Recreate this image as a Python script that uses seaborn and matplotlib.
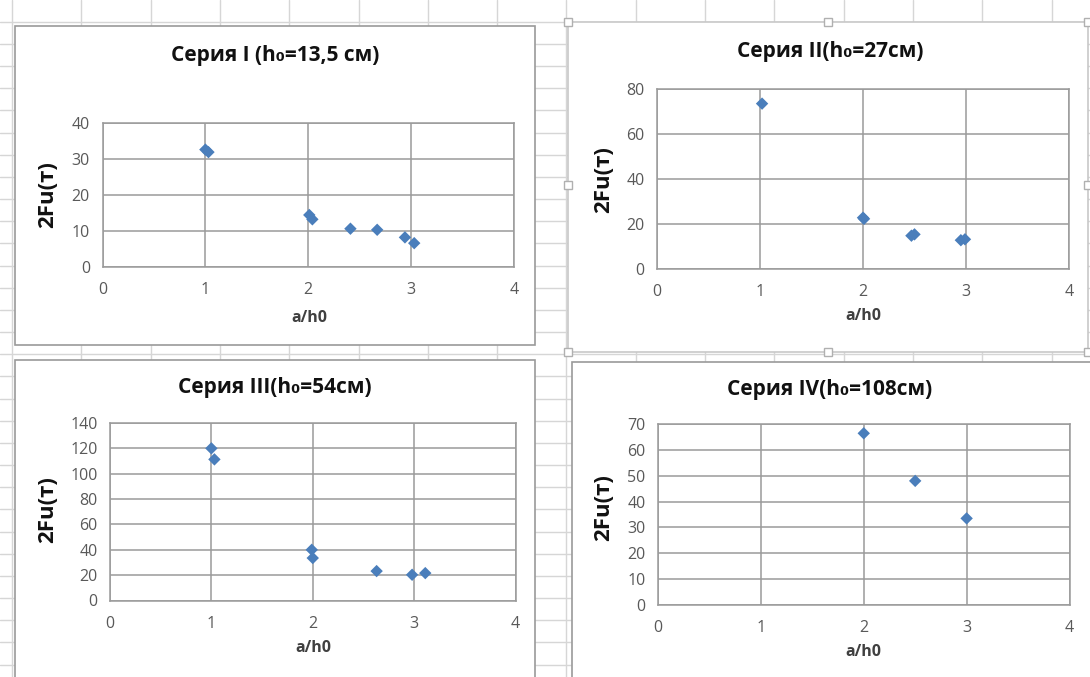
import matplotlib
matplotlib.use("Agg")
import matplotlib.pyplot as plt
import seaborn as sns
import pandas as pd
import numpy as np
from matplotlib.patches import Rectangle

# ---------------- data ----------------
s1_x = [1.00, 1.03, 2.01, 2.04, 2.41, 2.67, 2.94, 3.03]
s1_y = [32.5, 31.8, 14.4, 13.2, 10.6, 10.3, 8.2, 6.6]
s2_x = [1.02, 2.00, 2.01, 2.47, 2.50, 2.95, 2.99]
s2_y = [73.5, 22.8, 22.3, 14.8, 15.4, 12.8, 13.2]
s3_x = [1.00, 1.03, 1.99, 2.00, 2.63, 2.98, 3.11]
s3_y = [120.0, 111.3, 40.0, 33.5, 23.2, 20.3, 21.6]
s4_x = [2.0, 2.5, 3.0]
s4_y = [66.4, 48.0, 33.5]

titles = ["Серия I (h\u2080=13,5 см)", "Серия II(h\u2080=27см)",
          "Серия III(h\u2080=54см)", "Серия IV(h\u2080=108см)"]
y_label = "2Fu(т)"
x_label = "a/h0"
x_ticks = [0, 1, 2, 3, 4]
y_ticks = [[0, 10, 20, 30, 40], [0, 20, 40, 60, 80],
           [0, 20, 40, 60, 80, 100, 120, 140],
           [0, 10, 20, 30, 40, 50, 60, 70]]

# ---------------- style ----------------
sns.set_theme(style="white")
plt.rcParams['font.family'] = ['Open Sans', 'DejaVu Sans']

W, H = 1090, 677
fig = plt.figure(figsize=(W / 100, H / 100), dpi=100)
fig.patch.set_facecolor("white")

def fx(px):
    return px / W

def fy(py):
    return 1 - py / H

# spreadsheet background grid
bg = fig.add_axes([0, 0, 1, 1], zorder=0)
bg.set_xlim(0, W)
bg.set_ylim(H, 0)
bg.set_xticks(12 + 69.3 * np.arange(0, 16))
bg.set_yticks(21.7 + 22.17 * np.arange(0, 30))
bg.grid(True, color="#d6d6d6", linewidth=1)
bg.tick_params(length=0, labelbottom=False, labelleft=False)
for s in bg.spines.values():
    s.set_visible(False)
bg.set_facecolor("white")

# chart boxes (px: left, top, right, bottom)
boxes = [(15, 26, 535, 345, "#9a9a9a"), (568, 22, 1088, 352, "#c8c8c8"),
         (15, 360, 535, 690, "#9a9a9a"), (572, 362, 1095, 690, "#9a9a9a")]
for (l, t, r, b, c) in boxes:
    fig.patches.append(Rectangle((fx(l), fy(b)), fx(r - l), (b - t) / H,
                                 transform=fig.transFigure, facecolor="white",
                                 edgecolor=c, linewidth=1.2, zorder=1))
# selection handles on chart II
for (hx, hy) in [(568, 22), (828, 22), (1088, 22), (568, 185), (1088, 185),
                 (568, 352), (828, 352), (1088, 352)]:
    fig.patches.append(Rectangle((fx(hx - 4), fy(hy + 4)), fx(8), 8 / H,
                                 transform=fig.transFigure, facecolor="white",
                                 edgecolor="#b0b0b0", linewidth=1, zorder=2))

# plot areas (px: left, top, right, bottom)
areas = [(102.5, 122.5, 514, 267), (657, 89, 1069, 269),
         (110, 423, 515.5, 600.5), (658, 424, 1069.5, 605)]
title_pos = [(275, 55), (830, 52), (275, 388), (830, 390)]
ylab_pos = [(48, 195), (604, 180), (48, 510), (604, 508)]
xlab_pos = [(309, 318), (863, 316), (313, 648), (863, 652)]

xs = [s1_x, s2_x, s3_x, s4_x]
ys = [s1_y, s2_y, s3_y, s4_y]

for i in range(4):
    l, t, r, b = areas[i]
    ax = fig.add_axes([fx(l), fy(b), fx(r - l), (b - t) / H], zorder=3)
    df = pd.DataFrame({"x": xs[i], "y": ys[i]})
    sns.scatterplot(data=df, x="x", y="y", ax=ax, marker="D", s=40,
                    color="#4a7ebb", edgecolor="none", zorder=4)
    ax.set_xlim(0, 4)
    ax.set_ylim(y_ticks[i][0], y_ticks[i][-1])
    ax.set_xticks(x_ticks)
    ax.set_yticks(y_ticks[i])
    ax.grid(True, color="#9a9a9a", linewidth=1.1)
    ax.set_axisbelow(True)
    for s in ax.spines.values():
        s.set_color("#9a9a9a")
        s.set_linewidth(1.1)
    ax.tick_params(length=0, labelsize=11.5, labelcolor="#595959")
    ax.tick_params(axis="x", pad=11)
    ax.tick_params(axis="y", pad=9)
    ax.set_xlabel("")
    ax.set_ylabel("")
    ax.set_facecolor("white")

    fig.text(fx(title_pos[i][0]), fy(title_pos[i][1]), titles[i], ha="center",
             va="center", fontsize=15, fontweight="bold", color="#111111", zorder=5)
    fig.text(fx(ylab_pos[i][0]), fy(ylab_pos[i][1]), y_label, ha="center",
             va="center", rotation=90, fontsize=16, fontweight="bold",
             color="#111111", zorder=5)
    fig.text(fx(xlab_pos[i][0]), fy(xlab_pos[i][1]), x_label, ha="center",
             va="center", fontsize=11.5, fontweight="bold", color="#404040", zorder=5)

fig.savefig("out.png", dpi=100, facecolor="white")
